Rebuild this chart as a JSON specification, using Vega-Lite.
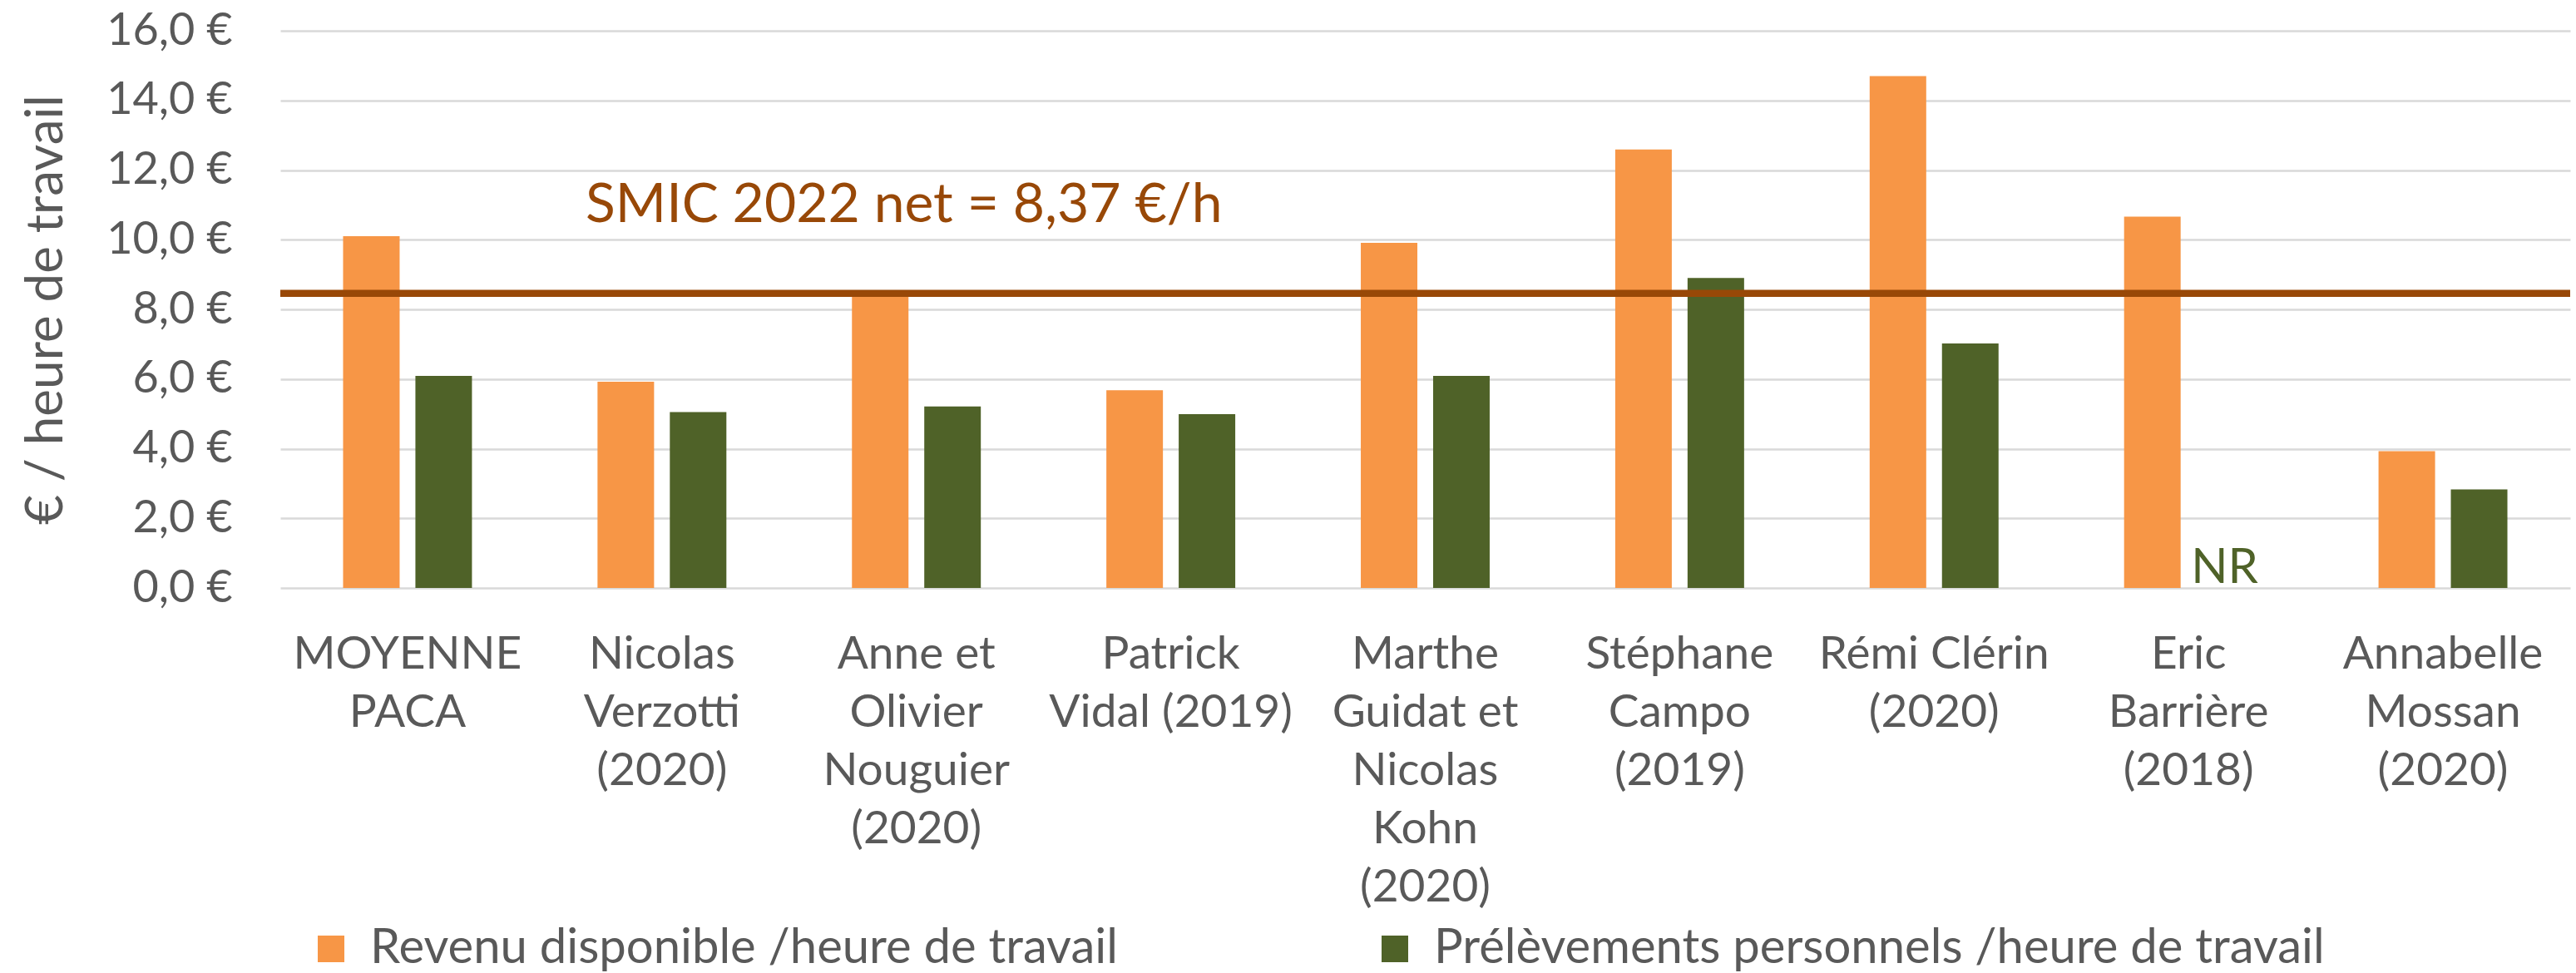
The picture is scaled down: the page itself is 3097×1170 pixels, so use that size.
{
  "$schema": "https://vega.github.io/schema/vega-lite/v6.json",
  "width": 2753,
  "height": 670,
  "autosize": {"type": "none"},
  "padding": {"left": 337, "top": 37, "right": 7, "bottom": 463},
  "background": "white",
  "config": {"view": {"stroke": null}, "font": "Lato"},
  "data": {
    "values": [
      {"cat": "MOYENNE|PACA", "series": "Revenu disponible /heure de travail", "value": 10.10},
      {"cat": "MOYENNE|PACA", "series": "Prélèvements personnels /heure de travail", "value": 6.09},
      {"cat": "Nicolas|Verzotti|(2020)", "series": "Revenu disponible /heure de travail", "value": 5.92},
      {"cat": "Nicolas|Verzotti|(2020)", "series": "Prélèvements personnels /heure de travail", "value": 5.05},
      {"cat": "Anne et|Olivier|Nouguier|(2020)", "series": "Revenu disponible /heure de travail", "value": 8.45},
      {"cat": "Anne et|Olivier|Nouguier|(2020)", "series": "Prélèvements personnels /heure de travail", "value": 5.21},
      {"cat": "Patrick|Vidal (2019)", "series": "Revenu disponible /heure de travail", "value": 5.68},
      {"cat": "Patrick|Vidal (2019)", "series": "Prélèvements personnels /heure de travail", "value": 4.99},
      {"cat": "Marthe|Guidat et|Nicolas|Kohn|(2020)", "series": "Revenu disponible /heure de travail", "value": 9.91},
      {"cat": "Marthe|Guidat et|Nicolas|Kohn|(2020)", "series": "Prélèvements personnels /heure de travail", "value": 6.09},
      {"cat": "Stéphane|Campo|(2019)", "series": "Revenu disponible /heure de travail", "value": 12.59},
      {"cat": "Stéphane|Campo|(2019)", "series": "Prélèvements personnels /heure de travail", "value": 8.90},
      {"cat": "Rémi Clérin|(2020)", "series": "Revenu disponible /heure de travail", "value": 14.70},
      {"cat": "Rémi Clérin|(2020)", "series": "Prélèvements personnels /heure de travail", "value": 7.02},
      {"cat": "Eric|Barrière|(2018)", "series": "Revenu disponible /heure de travail", "value": 10.66},
      {"cat": "Eric|Barrière|(2018)", "series": "Prélèvements personnels /heure de travail", "value": null, "note": "NR"},
      {"cat": "Annabelle|Mossan|(2020)", "series": "Revenu disponible /heure de travail", "value": 3.93},
      {"cat": "Annabelle|Mossan|(2020)", "series": "Prélèvements personnels /heure de travail", "value": 2.83}
    ]
  },
  "layer": [
    {
      "mark": {"type": "bar"},
      "encoding": {
        "x": {
          "field": "cat", "type": "nominal", "sort": null, "title": null,
          "scale": {
            "domain": ["MOYENNE|PACA", "Nicolas|Verzotti|(2020)", "Anne et|Olivier|Nouguier|(2020)", "Patrick|Vidal (2019)", "Marthe|Guidat et|Nicolas|Kohn|(2020)", "Stéphane|Campo|(2019)", "Rémi Clérin|(2020)", "Eric|Barrière|(2018)", "Annabelle|Mossan|(2020)"],
            "paddingInner": 0, "paddingOuter": 0
          },
          "axis": {
            "labelExpr": "split(datum.label, '|')",
            "labelAngle": 0,
            "labelFontSize": 55,
            "labelLineHeight": 70,
            "labelColor": "#595959",
            "labelPadding": 53,
            "labelLimit": 600,
            "domain": false,
            "ticks": false,
            "grid": false
          }
        },
        "xOffset": {
          "field": "series", "type": "nominal", "sort": null,
          "scale": {"domain": ["Revenu disponible /heure de travail", "Prélèvements personnels /heure de travail"], "paddingInner": 0.218, "paddingOuter": 0.868}
        },
        "y": {
          "field": "value", "type": "quantitative", "title": "€ / heure de travail",
          "scale": {"domain": [0, 16]},
          "axis": {
            "values": [0, 2, 4, 6, 8, 10, 12, 14, 16],
            "labelExpr": "replace(format(datum.value, '.1f'), '.', ',') + ' €'",
            "labelFontSize": 54,
            "labelColor": "#595959",
            "labelPadding": 58,
            "domain": false,
            "ticks": false,
            "gridColor": "#D9D9D9",
            "gridWidth": 2.5,
            "titleFontSize": 62,
            "titleFontWeight": "normal",
            "titleColor": "#595959",
            "titlePadding": 50
          }
        },
        "color": {
          "field": "series", "type": "nominal",
          "scale": {"domain": ["Revenu disponible /heure de travail", "Prélèvements personnels /heure de travail"], "range": ["#F79646", "#4F6228"]},
          "legend": {
            "orient": "bottom",
            "direction": "horizontal",
            "title": null,
            "symbolType": "square",
            "symbolSize": 1024,
            "symbolStrokeWidth": 0,
            "labelFontSize": 58,
            "labelColor": "#595959",
            "labelOffset": 18,
            "labelLimit": 2000,
            "columnPadding": 304,
            "padding": 32,
            "offset": -14
          }
        }
      }
    },
    {
      "transform": [{"filter": "datum.value === null"}],
      "mark": {"type": "text", "align": "center", "baseline": "alphabetic", "fontSize": 58, "color": "#4F6228"},
      "encoding": {
        "x": {"field": "cat", "type": "nominal", "sort": null, "title": null},
        "xOffset": {"field": "series", "type": "nominal", "sort": null},
        "y": {"datum": 0.14, "type": "quantitative", "title": "€ / heure de travail"},
        "text": {"field": "note"}
      }
    },
    {
      "data": {"values": [{"smic": 8.46}]},
      "mark": {"type": "rule", "color": "#984807", "strokeWidth": 8.6},
      "encoding": {
        "y": {"field": "smic", "type": "quantitative", "title": "€ / heure de travail"}
      }
    },
    {
      "data": {"values": [{"cat": "Nicolas|Verzotti|(2020)", "y": 10.5, "label": "SMIC 2022 net = 8,37 €/h"}]},
      "mark": {"type": "text", "align": "left", "baseline": "alphabetic", "fontSize": 66, "color": "#984807"},
      "encoding": {
        "x": {"field": "cat", "type": "nominal", "bandPosition": 0.2, "title": null},
        "y": {"field": "y", "type": "quantitative", "title": "€ / heure de travail"},
        "text": {"field": "label"}
      }
    }
  ]
}
